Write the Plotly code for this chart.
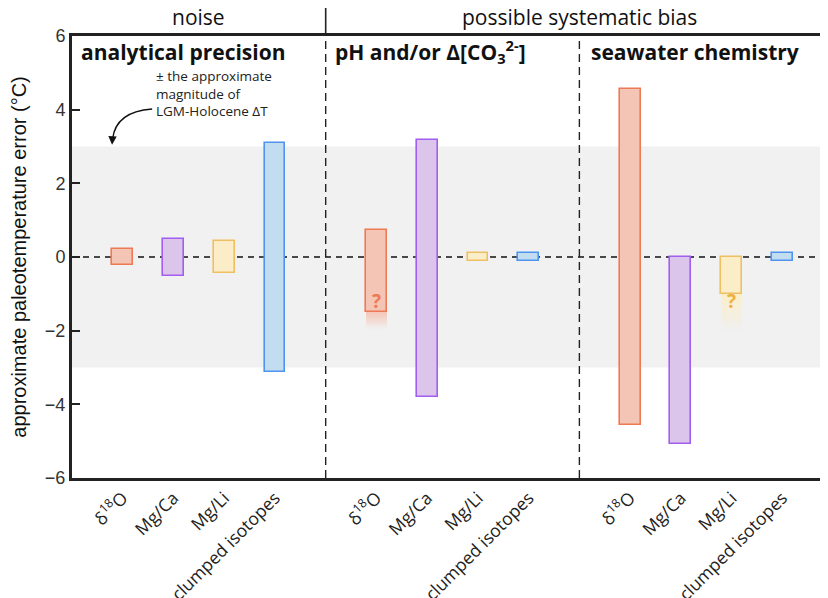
import plotly.graph_objects as go

# ---------------- data ----------------
group_names = ["analytical precision", "pH and/or Δ[CO<sub>3</sub><sup>2-</sup>]", "seawater chemistry"]
top_headers = ["noise", "possible systematic bias"]
proxies = ["δ<sup>18</sup>O", "Mg/Ca", "Mg/Li", "clumped isotopes"]

precision_hi = [0.22, 0.50, 0.43, 3.10]
precision_lo = [-0.22, -0.52, -0.43, -3.12]
ph_hi = [0.73, 3.18, 0.10, 0.10]
ph_lo = [-1.49, -3.80, -0.12, -0.12]
sw_hi = [4.57, 0.0, 0.0, 0.10]
sw_lo = [-4.57, -5.09, -1.00, -0.12]

# uncertain (faded) extensions: (group index, proxy index, fade end value)
uncertain = [(1, 0, -1.95), (2, 2, -2.0)]
question_y = [-1.2, -1.2]

band_half = 3.0  # ± approximate LGM-Holocene ΔT

fills = ["rgba(244,197,181,1)", "rgba(220,197,234,1)", "rgba(250,237,200,1)", "rgba(195,221,240,1)"]
fill_rgb = [(244, 197, 181), (220, 197, 234), (250, 237, 200), (195, 221, 240)]
lines = ["#ee7a55", "#a25ef0", "#efc062", "#4f94ee"]
qcolors = ["#ee7a55", "#a25ef0", "#f0b040", "#4f94ee"]

his = [precision_hi, ph_hi, sw_hi]
los = [precision_lo, ph_lo, sw_lo]

fig = go.Figure()

BW = 0.41
# faded tails
for (g, p, end) in uncertain:
    x = g * 5 + p + 1
    start = los[g][p]
    n = 14
    step = (end - start) / n
    r, gg, b = fill_rgb[p]
    for k in range(n):
        a = 1 - (k + 0.5) / n
        fig.add_trace(go.Bar(
            x=[x], y=[step], base=[start + k * step], width=BW,
            marker=dict(color=f"rgba({r},{gg},{b},{a:.3f})", line=dict(width=0)),
            hoverinfo="skip", showlegend=False))

for g in range(3):
    for p in range(4):
        x = g * 5 + p + 1
        fig.add_trace(go.Bar(
            x=[x], y=[his[g][p] - los[g][p]], base=[los[g][p]], width=BW,
            marker=dict(color=fills[p], line=dict(color=lines[p], width=1.6)),
            showlegend=False))

shapes = []
# grey band
shapes.append(dict(type="rect", xref="paper", x0=0, x1=1, yref="y", y0=-band_half, y1=band_half,
                   fillcolor="#f1f1f1", line=dict(width=0), layer="below"))
# zero line
shapes.append(dict(type="line", xref="paper", x0=0, x1=1, yref="y", y0=0, y1=0,
                   line=dict(color="#111", width=1.4, dash="6px,5px"), layer="below"))
# separators
for sx in [5, 10]:
    shapes.append(dict(type="line", x0=sx, x1=sx, yref="y", y0=-6, y1=6,
                       line=dict(color="#222", width=1.4, dash="8px,5px"), layer="above"))
shapes.append(dict(type="line", x0=5, x1=5, yref="paper", y0=1, y1=1.064,
                   line=dict(color="#222", width=1.6)))
# curved arrow
shapes.append(dict(type="path", path="M 1.58,4.02 Q 0.86,3.95 0.8,3.2",
                   line=dict(color="#111", width=1.4)))
fig.update_layout(shapes=shapes)

ann = []
hx = [0.14, 5.15, 10.18]
for g in range(3):
    ann.append(dict(x=hx[g], y=5.57, xref="x", yref="y", text=f"<b>{group_names[g]}</b>",
                    showarrow=False, xanchor="left", yanchor="middle",
                    font=dict(family="Open Sans", size=21, color="#111")))
ann.append(dict(x=2.5, y=1, xref="x", yref="paper", text=top_headers[0], showarrow=False,
                yanchor="bottom", yshift=3, font=dict(family="Open Sans", size=21, color="#111")))
ann.append(dict(x=10, y=1, xref="x", yref="paper", text=top_headers[1], showarrow=False,
                yanchor="bottom", yshift=3, font=dict(family="Open Sans", size=21, color="#111")))
ann.append(dict(x=1.62, y=4.45, xref="x", yref="y",
                text="± the approximate<br>magnitude of<br>LGM-Holocene ΔT",
                showarrow=False, xanchor="left", yanchor="middle", align="left",
                font=dict(family="Open Sans", size=13.5, color="#222")))
ann.append(dict(x=0.79, y=3.05, xref="x", yref="y", text="", showarrow=True, arrowhead=2,
                arrowsize=1.2, arrowwidth=1.4, arrowcolor="#111", ax=0.3, ay=-6))
for (g, p, end), qy in zip(uncertain, question_y):
    ann.append(dict(x=g * 5 + p + 1, y=qy, xref="x", yref="y", text="<b>?</b>", showarrow=False,
                    font=dict(family="Open Sans", size=19, color=qcolors[p])))
fig.update_layout(annotations=ann)

tickvals = [g * 5 + p + 1 for g in range(3) for p in range(4)]
ticktext = proxies * 3

fig.update_layout(
    width=820, height=590,
    margin=dict(l=64, r=0, t=28, b=120, autoexpand=False),
    paper_bgcolor="white", plot_bgcolor="white",
    barmode="overlay", bargap=0,
    xaxis=dict(range=[0, 14.9], tickvals=tickvals, ticktext=ticktext, tickangle=-45,
               showline=True, linecolor="#222", linewidth=3, mirror=True, ticks="",
               showgrid=False, zeroline=False, automargin=False,
               tickfont=dict(family="Open Sans", size=17.5, color="#222")),
    yaxis=dict(range=[-6, 6], tickvals=[-6, -4, -2, 0, 2, 4, 6],
               showline=True, linecolor="#222", linewidth=3, mirror="ticks",
               ticks="inside", ticklen=8, tickwidth=2, tickcolor="#222",
               showgrid=False, zeroline=False, automargin=False,
               tickfont=dict(family="Liberation Sans", size=18, color="#333"),
               title=dict(text="approximate paleotemperature error (°C)", standoff=14,
                          font=dict(family="Liberation Sans", size=20, color="#111"))),
)

fig.write_html("out.html")
